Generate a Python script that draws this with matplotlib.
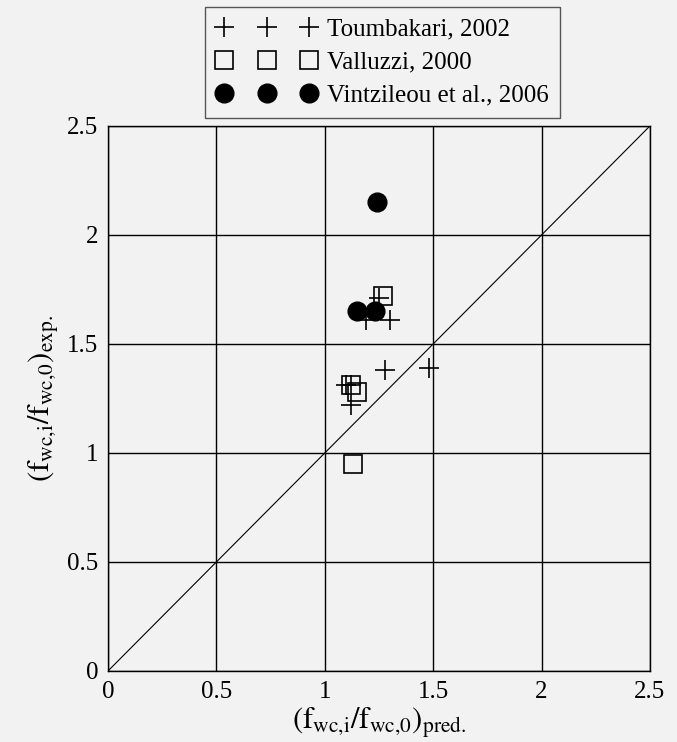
import matplotlib
matplotlib.use("Agg")
import matplotlib.pyplot as plt

plt.rcParams["font.family"] = ["Liberation Serif", "DejaVu Serif"]
plt.rcParams["mathtext.fontset"] = "stix"

BG = "#f2f2f2"

# Toumbakari, 2002
toum_x = [1.19, 1.25, 1.30, 1.28, 1.48, 1.10, 1.12, 1.12]
toum_y = [1.61, 1.71, 1.61, 1.38, 1.39, 1.31, 1.31, 1.22]
# Valluzzi, 2000
vall_x = [1.27, 1.12, 1.15, 1.13]
vall_y = [1.72, 1.31, 1.28, 0.95]
# Vintzileou et al., 2006
vint_x = [1.24, 1.15, 1.23]
vint_y = [2.15, 1.65, 1.65]

ticks = [0, 0.5, 1, 1.5, 2, 2.5]
tick_labels = ["0", "0.5", "1", "1.5", "2", "2.5"]

fig = plt.figure(figsize=(6.77, 7.42), dpi=100, facecolor=BG)
ax = fig.add_axes([0.1595, 0.0957, 0.8005, 0.7345], facecolor=BG)

ax.plot([0, 2.5], [0, 2.5], color="black", lw=0.8, zorder=2)

ax.plot(toum_x, toum_y, ls="none", marker="+", ms=14, mew=1.2,
        color="black", label="Toumbakari, 2002", zorder=3)
ax.plot(vall_x, vall_y, ls="none", marker="s", ms=12.5, mew=1.2,
        mfc="none", mec="black", label="Valluzzi, 2000", zorder=3)
ax.plot(vint_x, vint_y, ls="none", marker="o", ms=13.5,
        color="black", label="Vintzileou et al., 2006", zorder=3)

ax.set_xlim(0, 2.5)
ax.set_ylim(0, 2.5)
ax.set_xticks(ticks)
ax.set_xticklabels(tick_labels)
ax.set_yticks(ticks)
ax.set_yticklabels(tick_labels)
ax.tick_params(labelsize=18, length=0, pad=7)
ax.grid(True, color="black", lw=1.0)
ax.set_axisbelow(True)
for sp in ax.spines.values():
    sp.set_color("black")
    sp.set_linewidth(1.0)

ax.set_xlabel(r"$(\mathrm{f}_{\mathrm{wc{,}i}}/\mathrm{f}_{\mathrm{wc{,}0}})_{\mathrm{pred.}}$",
              fontsize=22, labelpad=2)
ax.set_ylabel(r"$(\mathrm{f}_{\mathrm{wc{,}i}}/\mathrm{f}_{\mathrm{wc{,}0}})_{\mathrm{exp.}}$",
              fontsize=22, labelpad=4)

leg = fig.legend(loc="upper center", bbox_to_anchor=(0.565, 0.991),
                 numpoints=3, fontsize=18, frameon=True, fancybox=False,
                 facecolor=BG, edgecolor="#555555", framealpha=1,
                 handlelength=4.0, handletextpad=0.4, borderpad=0.45,
                 labelspacing=0.43, borderaxespad=0)
leg.get_frame().set_linewidth(1.0)

fig.savefig("out.png", dpi=100, facecolor=BG)
